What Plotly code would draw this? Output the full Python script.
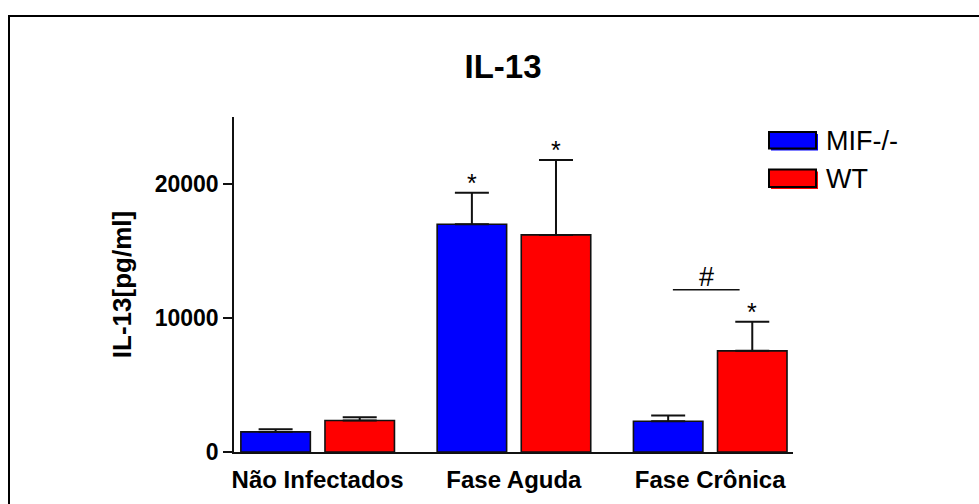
import plotly.graph_objects as go

# ---------------- data ----------------
categories = ["Não Infectados", "Fase Aguda", "Fase Crônica"]
mif_values = [1500, 17000, 2300]
mif_errors = [200, 2350, 420]
wt_values = [2350, 16200, 7550]
wt_errors = [250, 5600, 2170]
series_names = ["MIF-/-", "WT"]
y_ticks = [0, 10000, 20000]
# significance marks: (series index 0=MIF,1=WT, category index)
star_marks = [(0, 1), (1, 1), (1, 2)]
hash_bracket_x = [1.81, 2.15]
hash_bracket_y = 12100

# ---------------- layout constants ----------------
W, H = 979, 504
PL, PR, PT, PB = 234, 793, 117, 452
FONT = "Arial, Liberation Sans, sans-serif"
BLUE = "#0000FF"
RED = "#FF0000"
BAR_W = 0.354
OFF_MIF = -0.391
OFF_WT = 0.0375


def px_x(px):
    return (px - PL) / (PR - PL)


def px_y(py):
    return (PB - py) / (PB - PT)


xs = list(range(len(categories)))

fig = go.Figure()
fig.add_trace(go.Bar(
    x=xs, y=mif_values, name=series_names[0], width=BAR_W, offset=OFF_MIF,
    marker=dict(color=BLUE, line=dict(color="#111111", width=1.6)),
    error_y=dict(type="data", array=mif_errors, arrayminus=[0] * 3, symmetric=False,
                 color="#111111", thickness=2, width=17),
    showlegend=False,
))
fig.add_trace(go.Bar(
    x=xs, y=wt_values, name=series_names[1], width=BAR_W, offset=OFF_WT,
    marker=dict(color=RED, line=dict(color="#111111", width=1.6)),
    error_y=dict(type="data", array=wt_errors, arrayminus=[0] * 3, symmetric=False,
                 color="#111111", thickness=2, width=17),
    showlegend=False,
))

annotations = []
shapes = []

# asterisks
vals = [mif_values, wt_values]
errs = [mif_errors, wt_errors]
offs = [OFF_MIF, OFF_WT]
for s, c in star_marks:
    annotations.append(dict(
        x=xs[c] + offs[s] + BAR_W / 2, y=vals[s][c] + errs[s][c],
        xref="x", yref="y", text="*", showarrow=False,
        yanchor="bottom", yshift=-6,
        font=dict(family=FONT, size=25, color="black"),
    ))

# hash bracket
shapes.append(dict(type="line", xref="x", yref="y",
                   x0=hash_bracket_x[0], x1=hash_bracket_x[1],
                   y0=hash_bracket_y, y1=hash_bracket_y,
                   line=dict(color="#111111", width=1.5)))
annotations.append(dict(
    x=sum(hash_bracket_x) / 2, y=hash_bracket_y, xref="x", yref="y",
    text="#", showarrow=False, yanchor="bottom", yshift=-4,
    font=dict(family=FONT, size=27, color="black"),
))

# custom legend
leg_items = [(series_names[0], BLUE, 132, 148.5), (series_names[1], RED, 169.5, 187)]
for name, col, y0, y1 in leg_items:
    shapes.append(dict(type="rect", xref="paper", yref="paper",
                       x0=px_x(771), x1=px_x(818), y0=px_y(y1 + 2), y1=px_y(y0 + 2),
                       fillcolor=col, line=dict(width=0), layer="above"))
    shapes.append(dict(type="rect", xref="paper", yref="paper",
                       x0=px_x(769), x1=px_x(816), y0=px_y(y1), y1=px_y(y0),
                       fillcolor=col, line=dict(color="black", width=2), layer="above"))
    annotations.append(dict(
        x=px_x(824), y=px_y((y0 + y1) / 2 + 1), xref="paper", yref="paper",
        text=name, showarrow=False, xanchor="left", yanchor="middle",
        font=dict(family=FONT, size=27, color="black"),
    ))

# outer frame
shapes.append(dict(type="rect", xref="paper", yref="paper",
                   x0=px_x(9), x1=px_x(990), y0=px_y(515), y1=px_y(16),
                   line=dict(color="black", width=2), fillcolor="rgba(0,0,0,0)",
                   layer="above"))

fig.update_layout(
    width=W, height=H,
    margin=dict(l=PL, r=W - PR, t=PT, b=H - PB, pad=0),
    paper_bgcolor="white", plot_bgcolor="white",
    barmode="overlay",
    font=dict(family=FONT, color="black"),
    title=dict(text="<b>IL-13</b>", x=px_x(503), xref="paper", xanchor="center",
               y=1 - 66 / H, yref="container", yanchor="middle",
               font=dict(family=FONT, size=33, color="black")),
    annotations=annotations,
    shapes=shapes,
)
fig.update_xaxes(
    range=[-0.426, 2.422], tickmode="array", tickvals=xs, ticktext=categories,
    showline=True, linecolor="#111111", linewidth=1.5, ticks="",
    ticklabelstandoff=5,
    showgrid=False, zeroline=False,
    tickfont=dict(family=FONT, size=24, color="black", weight="bold"),
)
fig.update_yaxes(
    range=[0, 25000], tickmode="array", tickvals=y_ticks,
    ticktext=[str(v) for v in y_ticks],
    showline=True, linecolor="#111111", linewidth=1.5,
    ticks="outside", ticklen=9, tickwidth=1.5, tickcolor="#111111",
    showgrid=False, zeroline=False,
    tickfont=dict(family=FONT, size=23, color="black", weight="bold"),
    title=dict(text="IL-13[pg/ml]", standoff=16,
               font=dict(family=FONT, size=26, color="black", weight="bold")),
)

fig.write_html("out.html")
